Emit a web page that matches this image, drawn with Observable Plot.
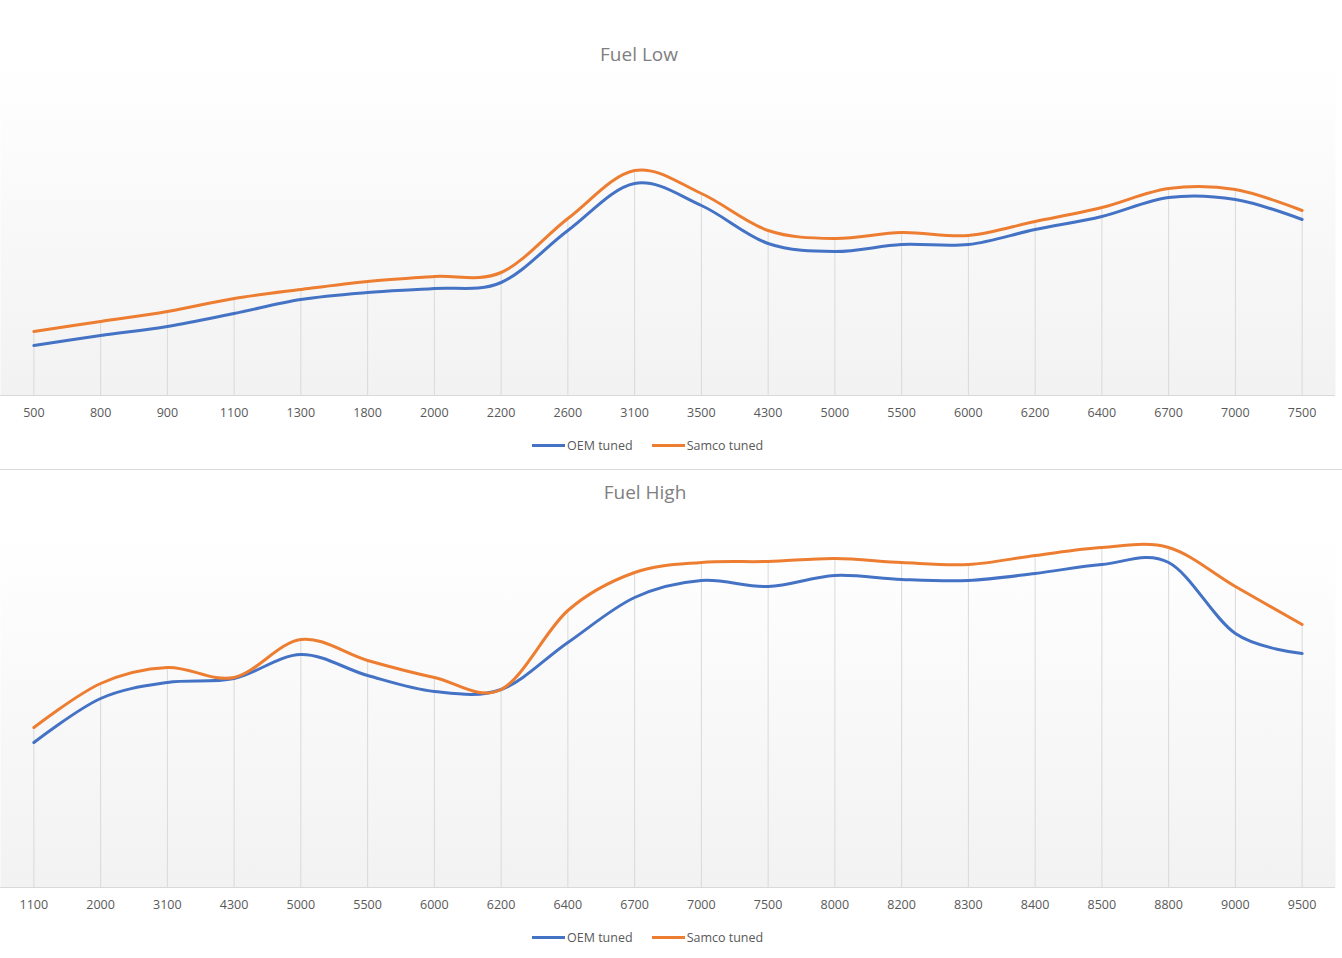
<!DOCTYPE html>
<html>
<head>
<meta charset="utf-8">
<script src="https://cdn.jsdelivr.net/npm/d3@7"></script>
<script src="https://cdn.jsdelivr.net/npm/@observablehq/plot@0.6"></script>
<style>
  html, body { margin: 0; padding: 0; background: #ffffff; }
  #page { position: relative; width: 1342px; height: 958px; overflow: hidden; font-family: "Open Sans", sans-serif; }
  .chart { position: absolute; left: 0; }
  .title { position: absolute; font-size: 19px; color: #7f7f7f; line-height: normal; white-space: nowrap; transform: translateX(-50%); }
  .legend { position: absolute; left: 532px; height: 20px; display: flex; align-items: center; font-size: 12.5px; color: #595959; white-space: nowrap; }
  .sw { display: inline-block; width: 33px; height: 3px; margin-right: 2px; }
  .sep { position: absolute; left: 0; width: 1342px; height: 1px; background: #d9d9d9; }
</style>
</head>
<body>
<div id="page">
  <div id="top" class="chart" style="top:0px"></div>
  <div id="bottom" class="chart" style="top:470px"></div>
  <div class="title" style="left:639px; top:41px">Fuel Low</div>
  <div class="legend" style="top:435px">
    <span class="sw" style="background:#4472C4"></span><span>OEM tuned</span>
    <span class="sw" style="background:#ED7D31; margin-left:19px"></span><span>Samco tuned</span>
  </div>
  <div class="sep" style="top:469px"></div>
  <div class="title" style="left:645px; top:479px">Fuel High</div>
  <div class="legend" style="top:927px">
    <span class="sw" style="background:#4472C4"></span><span>OEM tuned</span>
    <span class="sw" style="background:#ED7D31; margin-left:19px"></span><span>Samco tuned</span>
  </div>
</div>
<script>
// ---- Fuel Low ----
const lowRpm   = ["500","800","900","1100","1300","1800","2000","2200","2600","3100","3500","4300","5000","5500","6000","6200","6400","6700","7000","7500"];
const lowOEM   = [50, 60, 69, 82, 96, 103, 107, 113, 165, 212, 190, 152, 144, 151, 151, 166, 179, 198, 196, 176];
const lowSamco = [64, 74, 84, 97, 106, 114, 119, 123, 177, 225, 202, 165, 157, 163, 160, 174, 188, 207, 206, 185];

// ---- Fuel High ----
const highRpm   = ["1100","2000","3100","4300","5000","5500","6000","6200","6400","6700","7000","7500","8000","8200","8300","8400","8500","8800","9000","9500"];
const highOEM   = [145, 189, 205, 209, 233, 212, 196, 198, 245, 290, 307, 301, 312, 308, 307, 314, 323, 325, 254, 234];
const highSamco = [160, 204, 220, 210, 248, 227, 210, 198, 277, 315, 325, 326, 329, 325, 323, 332, 340, 340, 301, 263];

const seriesColors = { oem: "#4472C4", samco: "#ED7D31" };

function makeChart(rpm, oem, samco, height, baseline, gid) {
  const rows = rpm.map((r, i) => ({ rpm: r, oem: oem[i], samco: samco[i], top: Math.max(oem[i], samco[i]) }));
  const plot = Plot.plot({
    width: 1342,
    height: height,
    marginLeft: 0,
    marginRight: 7,
    marginTop: 0,
    marginBottom: height - baseline,
    x: { type: "point", domain: rpm, padding: 0.5, round: false, label: null },
    y: { domain: [0, baseline], axis: null },
    style: { background: "transparent", fontFamily: "Open Sans, sans-serif", fontSize: "12.5px", color: "#595959" },
    marks: [
      Plot.frame({ fill: `url(#${gid})`, stroke: null }),
      Plot.ruleX(rows, { x: "rpm", y1: 0, y2: "top", stroke: "#d9d9d9", strokeWidth: 1 }),
      Plot.ruleY([0], { stroke: "#d9d9d9", strokeWidth: 1 }),
      Plot.line(rows, { x: "rpm", y: "oem", stroke: seriesColors.oem, strokeWidth: 3, curve: "cardinal", tension: 0 }),
      Plot.line(rows, { x: "rpm", y: "samco", stroke: seriesColors.samco, strokeWidth: 3, curve: "cardinal", tension: 0 }),
      Plot.axisX({ tickSize: 0, tickPadding: 13, fontSize: 12.5, label: null })
    ]
  });
  const ns = "http://www.w3.org/2000/svg";
  const defs = document.createElementNS(ns, "defs");
  const lg = document.createElementNS(ns, "linearGradient");
  lg.setAttribute("id", gid);
  lg.setAttribute("x1", "0"); lg.setAttribute("y1", "0"); lg.setAttribute("x2", "0"); lg.setAttribute("y2", "1");
  [["0", "#ffffff"], ["0.15", "#ffffff"], ["1", "#f2f2f2"]].forEach(([o, c]) => {
    const s = document.createElementNS(ns, "stop");
    s.setAttribute("offset", o); s.setAttribute("stop-color", c);
    lg.appendChild(s);
  });
  defs.appendChild(lg);
  plot.insertBefore(defs, plot.firstChild);
  return plot;
}

document.getElementById("top").appendChild(makeChart(lowRpm, lowOEM, lowSamco, 430, 395, "gLow"));
document.getElementById("bottom").appendChild(makeChart(highRpm, highOEM, highSamco, 450, 417, "gHigh"));
</script>
</body>
</html>
